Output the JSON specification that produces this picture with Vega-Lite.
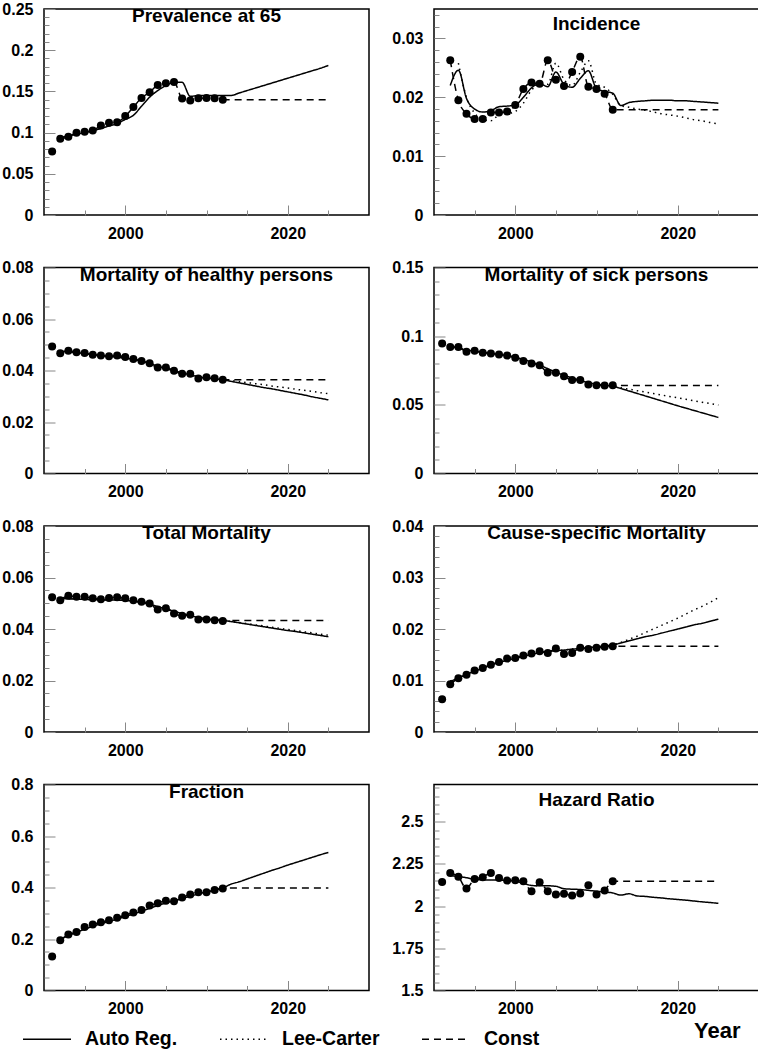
{
"$schema":"https://vega.github.io/schema/vega-lite/v6.json",
"padding":{"left":1,"top":0,"right":0,"bottom":0},
"data":{"values":[
{"p":"a","s":"obs","y":1991,"v":0.077},{"p":"a","s":"obs","y":1992,"v":0.0925},{"p":"a","s":"obs","y":1993,"v":0.095},{"p":"a","s":"obs","y":1994,"v":0.0997},{"p":"a","s":"obs","y":1995,"v":0.101},{"p":"a","s":"obs","y":1996,"v":0.1025},{"p":"a","s":"obs","y":1997,"v":0.1085},{"p":"a","s":"obs","y":1998,"v":0.112},{"p":"a","s":"obs","y":1999,"v":0.1127},{"p":"a","s":"obs","y":2000,"v":0.12},{"p":"a","s":"obs","y":2001,"v":0.131},{"p":"a","s":"obs","y":2002,"v":0.142},{"p":"a","s":"obs","y":2003,"v":0.149},{"p":"a","s":"obs","y":2004,"v":0.1577},{"p":"a","s":"obs","y":2005,"v":0.16},{"p":"a","s":"obs","y":2006,"v":0.1613},{"p":"a","s":"obs","y":2007,"v":0.1413},{"p":"a","s":"obs","y":2008,"v":0.139},{"p":"a","s":"obs","y":2009,"v":0.1418},{"p":"a","s":"obs","y":2010,"v":0.142},{"p":"a","s":"obs","y":2011,"v":0.1418},{"p":"a","s":"obs","y":2012,"v":0.14},
{"p":"a","s":"Const","y":1992,"v":0.0925},{"p":"a","s":"Const","y":1993,"v":0.095},{"p":"a","s":"Const","y":1994,"v":0.0997},{"p":"a","s":"Const","y":1995,"v":0.101},{"p":"a","s":"Const","y":1996,"v":0.1025},{"p":"a","s":"Const","y":1997,"v":0.1085},{"p":"a","s":"Const","y":1998,"v":0.112},{"p":"a","s":"Const","y":1999,"v":0.1127},{"p":"a","s":"Const","y":2000,"v":0.12},{"p":"a","s":"Const","y":2001,"v":0.131},{"p":"a","s":"Const","y":2002,"v":0.142},{"p":"a","s":"Const","y":2003,"v":0.149},{"p":"a","s":"Const","y":2004,"v":0.1577},{"p":"a","s":"Const","y":2005,"v":0.16},{"p":"a","s":"Const","y":2006,"v":0.1613},{"p":"a","s":"Const","y":2007,"v":0.1413},{"p":"a","s":"Const","y":2008,"v":0.139},{"p":"a","s":"Const","y":2009,"v":0.1418},{"p":"a","s":"Const","y":2010,"v":0.142},{"p":"a","s":"Const","y":2011,"v":0.1418},{"p":"a","s":"Const","y":2012,"v":0.14},{"p":"a","s":"Const","y":2025,"v":0.14},
{"p":"a","s":"Auto Reg.","y":1992,"v":0.094},{"p":"a","s":"Auto Reg.","y":1993,"v":0.096},{"p":"a","s":"Auto Reg.","y":1994,"v":0.098},{"p":"a","s":"Auto Reg.","y":1995,"v":0.1},{"p":"a","s":"Auto Reg.","y":1996,"v":0.102},{"p":"a","s":"Auto Reg.","y":1997,"v":0.105},{"p":"a","s":"Auto Reg.","y":1998,"v":0.108},{"p":"a","s":"Auto Reg.","y":1999,"v":0.111},{"p":"a","s":"Auto Reg.","y":2000,"v":0.116},{"p":"a","s":"Auto Reg.","y":2001,"v":0.121},{"p":"a","s":"Auto Reg.","y":2002,"v":0.132},{"p":"a","s":"Auto Reg.","y":2003,"v":0.143},{"p":"a","s":"Auto Reg.","y":2004,"v":0.151},{"p":"a","s":"Auto Reg.","y":2005,"v":0.157},{"p":"a","s":"Auto Reg.","y":2006,"v":0.161},{"p":"a","s":"Auto Reg.","y":2007,"v":0.161},{"p":"a","s":"Auto Reg.","y":2008,"v":0.144},{"p":"a","s":"Auto Reg.","y":2009,"v":0.145},{"p":"a","s":"Auto Reg.","y":2010,"v":0.145},{"p":"a","s":"Auto Reg.","y":2011,"v":0.145},{"p":"a","s":"Auto Reg.","y":2012,"v":0.145},{"p":"a","s":"Auto Reg.","y":2013,"v":0.145},{"p":"a","s":"Auto Reg.","y":2014,"v":0.148},{"p":"a","s":"Auto Reg.","y":2015,"v":0.151},{"p":"a","s":"Auto Reg.","y":2016,"v":0.154},{"p":"a","s":"Auto Reg.","y":2017,"v":0.157},{"p":"a","s":"Auto Reg.","y":2018,"v":0.16},{"p":"a","s":"Auto Reg.","y":2019,"v":0.163},{"p":"a","s":"Auto Reg.","y":2020,"v":0.166},{"p":"a","s":"Auto Reg.","y":2021,"v":0.169},{"p":"a","s":"Auto Reg.","y":2022,"v":0.172},{"p":"a","s":"Auto Reg.","y":2023,"v":0.175},{"p":"a","s":"Auto Reg.","y":2024,"v":0.178},{"p":"a","s":"Auto Reg.","y":2025,"v":0.1815},

{"p":"b","s":"obs","y":1992,"v":0.0263},{"p":"b","s":"obs","y":1993,"v":0.0195},{"p":"b","s":"obs","y":1994,"v":0.0172},{"p":"b","s":"obs","y":1995,"v":0.0163},{"p":"b","s":"obs","y":1996,"v":0.0163},{"p":"b","s":"obs","y":1997,"v":0.0174},{"p":"b","s":"obs","y":1998,"v":0.0174},{"p":"b","s":"obs","y":1999,"v":0.0176},{"p":"b","s":"obs","y":2000,"v":0.0187},{"p":"b","s":"obs","y":2001,"v":0.0214},{"p":"b","s":"obs","y":2002,"v":0.0225},{"p":"b","s":"obs","y":2003,"v":0.0223},{"p":"b","s":"obs","y":2004,"v":0.0263},{"p":"b","s":"obs","y":2005,"v":0.023},{"p":"b","s":"obs","y":2006,"v":0.0219},{"p":"b","s":"obs","y":2007,"v":0.0243},{"p":"b","s":"obs","y":2008,"v":0.0269},{"p":"b","s":"obs","y":2009,"v":0.0218},{"p":"b","s":"obs","y":2010,"v":0.0214},{"p":"b","s":"obs","y":2011,"v":0.0206},{"p":"b","s":"obs","y":2012,"v":0.0179},
{"p":"b","s":"Const","y":1992,"v":0.0263},{"p":"b","s":"Const","y":1993,"v":0.0195},{"p":"b","s":"Const","y":1994,"v":0.0172},{"p":"b","s":"Const","y":1995,"v":0.0163},{"p":"b","s":"Const","y":1996,"v":0.0163},{"p":"b","s":"Const","y":1997,"v":0.0174},{"p":"b","s":"Const","y":1998,"v":0.0174},{"p":"b","s":"Const","y":1999,"v":0.0176},{"p":"b","s":"Const","y":2000,"v":0.0187},{"p":"b","s":"Const","y":2001,"v":0.0214},{"p":"b","s":"Const","y":2002,"v":0.0225},{"p":"b","s":"Const","y":2003,"v":0.0223},{"p":"b","s":"Const","y":2004,"v":0.0263},{"p":"b","s":"Const","y":2005,"v":0.023},{"p":"b","s":"Const","y":2006,"v":0.0219},{"p":"b","s":"Const","y":2007,"v":0.0243},{"p":"b","s":"Const","y":2008,"v":0.0269},{"p":"b","s":"Const","y":2009,"v":0.0218},{"p":"b","s":"Const","y":2010,"v":0.0214},{"p":"b","s":"Const","y":2011,"v":0.0206},{"p":"b","s":"Const","y":2012,"v":0.0179},{"p":"b","s":"Const","y":2025,"v":0.0179},
{"p":"b","s":"Auto Reg.","y":1992,"v":0.022},{"p":"b","s":"Auto Reg.","y":1993,"v":0.0246},{"p":"b","s":"Auto Reg.","y":1994,"v":0.0198},{"p":"b","s":"Auto Reg.","y":1995,"v":0.018},{"p":"b","s":"Auto Reg.","y":1996,"v":0.0175},{"p":"b","s":"Auto Reg.","y":1997,"v":0.0177},{"p":"b","s":"Auto Reg.","y":1998,"v":0.0184},{"p":"b","s":"Auto Reg.","y":1999,"v":0.0185},{"p":"b","s":"Auto Reg.","y":2000,"v":0.0187},{"p":"b","s":"Auto Reg.","y":2001,"v":0.02},{"p":"b","s":"Auto Reg.","y":2002,"v":0.0216},{"p":"b","s":"Auto Reg.","y":2003,"v":0.0223},{"p":"b","s":"Auto Reg.","y":2004,"v":0.0218},{"p":"b","s":"Auto Reg.","y":2005,"v":0.0243},{"p":"b","s":"Auto Reg.","y":2006,"v":0.0222},{"p":"b","s":"Auto Reg.","y":2007,"v":0.0217},{"p":"b","s":"Auto Reg.","y":2008,"v":0.0232},{"p":"b","s":"Auto Reg.","y":2009,"v":0.0245},{"p":"b","s":"Auto Reg.","y":2010,"v":0.0215},{"p":"b","s":"Auto Reg.","y":2011,"v":0.021},{"p":"b","s":"Auto Reg.","y":2012,"v":0.0207},{"p":"b","s":"Auto Reg.","y":2013,"v":0.0186},{"p":"b","s":"Auto Reg.","y":2014,"v":0.0191},{"p":"b","s":"Auto Reg.","y":2015,"v":0.0193},{"p":"b","s":"Auto Reg.","y":2016,"v":0.0194},{"p":"b","s":"Auto Reg.","y":2017,"v":0.0195},{"p":"b","s":"Auto Reg.","y":2018,"v":0.0195},{"p":"b","s":"Auto Reg.","y":2019,"v":0.0195},{"p":"b","s":"Auto Reg.","y":2020,"v":0.0194},{"p":"b","s":"Auto Reg.","y":2021,"v":0.0194},{"p":"b","s":"Auto Reg.","y":2022,"v":0.0193},{"p":"b","s":"Auto Reg.","y":2023,"v":0.0192},{"p":"b","s":"Auto Reg.","y":2024,"v":0.0191},{"p":"b","s":"Auto Reg.","y":2025,"v":0.019},
{"p":"b","s":"Lee-Carter","y":1993,"v":0.0258},{"p":"b","s":"Lee-Carter","y":1994,"v":0.02},{"p":"b","s":"Lee-Carter","y":1995,"v":0.0173},{"p":"b","s":"Lee-Carter","y":1996,"v":0.0163},{"p":"b","s":"Lee-Carter","y":1997,"v":0.016},{"p":"b","s":"Lee-Carter","y":1998,"v":0.017},{"p":"b","s":"Lee-Carter","y":1999,"v":0.0172},{"p":"b","s":"Lee-Carter","y":2000,"v":0.0176},{"p":"b","s":"Lee-Carter","y":2001,"v":0.019},{"p":"b","s":"Lee-Carter","y":2002,"v":0.0212},{"p":"b","s":"Lee-Carter","y":2003,"v":0.0222},{"p":"b","s":"Lee-Carter","y":2004,"v":0.0222},{"p":"b","s":"Lee-Carter","y":2005,"v":0.0258},{"p":"b","s":"Lee-Carter","y":2006,"v":0.023},{"p":"b","s":"Lee-Carter","y":2007,"v":0.022},{"p":"b","s":"Lee-Carter","y":2008,"v":0.0242},{"p":"b","s":"Lee-Carter","y":2009,"v":0.0262},{"p":"b","s":"Lee-Carter","y":2010,"v":0.0222},{"p":"b","s":"Lee-Carter","y":2011,"v":0.0217},{"p":"b","s":"Lee-Carter","y":2012,"v":0.0205},{"p":"b","s":"Lee-Carter","y":2013,"v":0.0186},{"p":"b","s":"Lee-Carter","y":2014,"v":0.0183},{"p":"b","s":"Lee-Carter","y":2015,"v":0.018},{"p":"b","s":"Lee-Carter","y":2016,"v":0.0178},{"p":"b","s":"Lee-Carter","y":2017,"v":0.0175},{"p":"b","s":"Lee-Carter","y":2018,"v":0.0172},{"p":"b","s":"Lee-Carter","y":2019,"v":0.017},{"p":"b","s":"Lee-Carter","y":2020,"v":0.0168},{"p":"b","s":"Lee-Carter","y":2021,"v":0.0165},{"p":"b","s":"Lee-Carter","y":2022,"v":0.0162},{"p":"b","s":"Lee-Carter","y":2023,"v":0.016},{"p":"b","s":"Lee-Carter","y":2024,"v":0.0157},{"p":"b","s":"Lee-Carter","y":2025,"v":0.0155},

{"p":"c","s":"obs","y":1991,"v":0.0493},{"p":"c","s":"obs","y":1992,"v":0.0467},{"p":"c","s":"obs","y":1993,"v":0.0477},{"p":"c","s":"obs","y":1994,"v":0.0471},{"p":"c","s":"obs","y":1995,"v":0.0468},{"p":"c","s":"obs","y":1996,"v":0.0461},{"p":"c","s":"obs","y":1997,"v":0.0458},{"p":"c","s":"obs","y":1998,"v":0.0455},{"p":"c","s":"obs","y":1999,"v":0.0458},{"p":"c","s":"obs","y":2000,"v":0.0452},{"p":"c","s":"obs","y":2001,"v":0.0445},{"p":"c","s":"obs","y":2002,"v":0.0437},{"p":"c","s":"obs","y":2003,"v":0.0428},{"p":"c","s":"obs","y":2004,"v":0.0412},{"p":"c","s":"obs","y":2005,"v":0.0412},{"p":"c","s":"obs","y":2006,"v":0.0399},{"p":"c","s":"obs","y":2007,"v":0.0387},{"p":"c","s":"obs","y":2008,"v":0.0387},{"p":"c","s":"obs","y":2009,"v":0.0369},{"p":"c","s":"obs","y":2010,"v":0.0374},{"p":"c","s":"obs","y":2011,"v":0.037},{"p":"c","s":"obs","y":2012,"v":0.0364},
{"p":"c","s":"Const","y":1992,"v":0.0467},{"p":"c","s":"Const","y":1993,"v":0.0477},{"p":"c","s":"Const","y":1994,"v":0.0471},{"p":"c","s":"Const","y":1995,"v":0.0468},{"p":"c","s":"Const","y":1996,"v":0.0461},{"p":"c","s":"Const","y":1997,"v":0.0458},{"p":"c","s":"Const","y":1998,"v":0.0455},{"p":"c","s":"Const","y":1999,"v":0.0458},{"p":"c","s":"Const","y":2000,"v":0.0452},{"p":"c","s":"Const","y":2001,"v":0.0445},{"p":"c","s":"Const","y":2002,"v":0.0437},{"p":"c","s":"Const","y":2003,"v":0.0428},{"p":"c","s":"Const","y":2004,"v":0.0412},{"p":"c","s":"Const","y":2005,"v":0.0412},{"p":"c","s":"Const","y":2006,"v":0.0399},{"p":"c","s":"Const","y":2007,"v":0.0387},{"p":"c","s":"Const","y":2008,"v":0.0387},{"p":"c","s":"Const","y":2009,"v":0.0369},{"p":"c","s":"Const","y":2010,"v":0.0374},{"p":"c","s":"Const","y":2011,"v":0.037},{"p":"c","s":"Const","y":2012,"v":0.0364},{"p":"c","s":"Const","y":2025,"v":0.0364},
{"p":"c","s":"Auto Reg.","y":1992,"v":0.0475},{"p":"c","s":"Auto Reg.","y":1993,"v":0.0472},{"p":"c","s":"Auto Reg.","y":1994,"v":0.0469},{"p":"c","s":"Auto Reg.","y":1995,"v":0.0466},{"p":"c","s":"Auto Reg.","y":1996,"v":0.0462},{"p":"c","s":"Auto Reg.","y":1997,"v":0.0458},{"p":"c","s":"Auto Reg.","y":1998,"v":0.0455},{"p":"c","s":"Auto Reg.","y":1999,"v":0.0452},{"p":"c","s":"Auto Reg.","y":2000,"v":0.0448},{"p":"c","s":"Auto Reg.","y":2001,"v":0.0443},{"p":"c","s":"Auto Reg.","y":2002,"v":0.0436},{"p":"c","s":"Auto Reg.","y":2003,"v":0.0427},{"p":"c","s":"Auto Reg.","y":2004,"v":0.0417},{"p":"c","s":"Auto Reg.","y":2005,"v":0.0408},{"p":"c","s":"Auto Reg.","y":2006,"v":0.0399},{"p":"c","s":"Auto Reg.","y":2007,"v":0.0391},{"p":"c","s":"Auto Reg.","y":2008,"v":0.0383},{"p":"c","s":"Auto Reg.","y":2009,"v":0.0376},{"p":"c","s":"Auto Reg.","y":2010,"v":0.0371},{"p":"c","s":"Auto Reg.","y":2011,"v":0.0367},{"p":"c","s":"Auto Reg.","y":2012,"v":0.0364},{"p":"c","s":"Auto Reg.","y":2013,"v":0.0358},{"p":"c","s":"Auto Reg.","y":2014,"v":0.0352},{"p":"c","s":"Auto Reg.","y":2015,"v":0.0346},{"p":"c","s":"Auto Reg.","y":2016,"v":0.034},{"p":"c","s":"Auto Reg.","y":2017,"v":0.0334},{"p":"c","s":"Auto Reg.","y":2018,"v":0.0329},{"p":"c","s":"Auto Reg.","y":2019,"v":0.0323},{"p":"c","s":"Auto Reg.","y":2020,"v":0.0317},{"p":"c","s":"Auto Reg.","y":2021,"v":0.0311},{"p":"c","s":"Auto Reg.","y":2022,"v":0.0305},{"p":"c","s":"Auto Reg.","y":2023,"v":0.0298},{"p":"c","s":"Auto Reg.","y":2024,"v":0.0292},{"p":"c","s":"Auto Reg.","y":2025,"v":0.0286},
{"p":"c","s":"Lee-Carter","y":1992,"v":0.0476},{"p":"c","s":"Lee-Carter","y":1993,"v":0.0473},{"p":"c","s":"Lee-Carter","y":1994,"v":0.047},{"p":"c","s":"Lee-Carter","y":1995,"v":0.0466},{"p":"c","s":"Lee-Carter","y":1996,"v":0.0462},{"p":"c","s":"Lee-Carter","y":1997,"v":0.0458},{"p":"c","s":"Lee-Carter","y":1998,"v":0.0455},{"p":"c","s":"Lee-Carter","y":1999,"v":0.0452},{"p":"c","s":"Lee-Carter","y":2000,"v":0.0448},{"p":"c","s":"Lee-Carter","y":2001,"v":0.0443},{"p":"c","s":"Lee-Carter","y":2002,"v":0.0436},{"p":"c","s":"Lee-Carter","y":2003,"v":0.0427},{"p":"c","s":"Lee-Carter","y":2004,"v":0.0417},{"p":"c","s":"Lee-Carter","y":2005,"v":0.0408},{"p":"c","s":"Lee-Carter","y":2006,"v":0.0399},{"p":"c","s":"Lee-Carter","y":2007,"v":0.0391},{"p":"c","s":"Lee-Carter","y":2008,"v":0.0383},{"p":"c","s":"Lee-Carter","y":2009,"v":0.0376},{"p":"c","s":"Lee-Carter","y":2010,"v":0.0371},{"p":"c","s":"Lee-Carter","y":2011,"v":0.0367},{"p":"c","s":"Lee-Carter","y":2012,"v":0.0364},{"p":"c","s":"Lee-Carter","y":2013,"v":0.0361},{"p":"c","s":"Lee-Carter","y":2014,"v":0.0357},{"p":"c","s":"Lee-Carter","y":2015,"v":0.0353},{"p":"c","s":"Lee-Carter","y":2016,"v":0.0349},{"p":"c","s":"Lee-Carter","y":2017,"v":0.0345},{"p":"c","s":"Lee-Carter","y":2018,"v":0.034},{"p":"c","s":"Lee-Carter","y":2019,"v":0.0336},{"p":"c","s":"Lee-Carter","y":2020,"v":0.0332},{"p":"c","s":"Lee-Carter","y":2021,"v":0.0327},{"p":"c","s":"Lee-Carter","y":2022,"v":0.0323},{"p":"c","s":"Lee-Carter","y":2023,"v":0.0319},{"p":"c","s":"Lee-Carter","y":2024,"v":0.0314},{"p":"c","s":"Lee-Carter","y":2025,"v":0.031},

{"p":"d","s":"obs","y":1991,"v":0.0947},{"p":"d","s":"obs","y":1992,"v":0.0922},{"p":"d","s":"obs","y":1993,"v":0.0922},{"p":"d","s":"obs","y":1994,"v":0.0886},{"p":"d","s":"obs","y":1995,"v":0.0893},{"p":"d","s":"obs","y":1996,"v":0.0879},{"p":"d","s":"obs","y":1997,"v":0.0874},{"p":"d","s":"obs","y":1998,"v":0.0867},{"p":"d","s":"obs","y":1999,"v":0.0859},{"p":"d","s":"obs","y":2000,"v":0.0842},{"p":"d","s":"obs","y":2001,"v":0.082},{"p":"d","s":"obs","y":2002,"v":0.0801},{"p":"d","s":"obs","y":2003,"v":0.0789},{"p":"d","s":"obs","y":2004,"v":0.0735},{"p":"d","s":"obs","y":2005,"v":0.0733},{"p":"d","s":"obs","y":2006,"v":0.0709},{"p":"d","s":"obs","y":2007,"v":0.068},{"p":"d","s":"obs","y":2008,"v":0.068},{"p":"d","s":"obs","y":2009,"v":0.0648},{"p":"d","s":"obs","y":2010,"v":0.0643},{"p":"d","s":"obs","y":2011,"v":0.0641},{"p":"d","s":"obs","y":2012,"v":0.0643},
{"p":"d","s":"Const","y":1992,"v":0.0922},{"p":"d","s":"Const","y":1993,"v":0.0922},{"p":"d","s":"Const","y":1994,"v":0.0886},{"p":"d","s":"Const","y":1995,"v":0.0893},{"p":"d","s":"Const","y":1996,"v":0.0879},{"p":"d","s":"Const","y":1997,"v":0.0874},{"p":"d","s":"Const","y":1998,"v":0.0867},{"p":"d","s":"Const","y":1999,"v":0.0859},{"p":"d","s":"Const","y":2000,"v":0.0842},{"p":"d","s":"Const","y":2001,"v":0.082},{"p":"d","s":"Const","y":2002,"v":0.0801},{"p":"d","s":"Const","y":2003,"v":0.0789},{"p":"d","s":"Const","y":2004,"v":0.0735},{"p":"d","s":"Const","y":2005,"v":0.0733},{"p":"d","s":"Const","y":2006,"v":0.0709},{"p":"d","s":"Const","y":2007,"v":0.068},{"p":"d","s":"Const","y":2008,"v":0.068},{"p":"d","s":"Const","y":2009,"v":0.0648},{"p":"d","s":"Const","y":2010,"v":0.0643},{"p":"d","s":"Const","y":2011,"v":0.0641},{"p":"d","s":"Const","y":2012,"v":0.064},{"p":"d","s":"Const","y":2025,"v":0.064},
{"p":"d","s":"Auto Reg.","y":1992,"v":0.0925},{"p":"d","s":"Auto Reg.","y":1993,"v":0.0912},{"p":"d","s":"Auto Reg.","y":1994,"v":0.09},{"p":"d","s":"Auto Reg.","y":1995,"v":0.089},{"p":"d","s":"Auto Reg.","y":1996,"v":0.0882},{"p":"d","s":"Auto Reg.","y":1997,"v":0.0875},{"p":"d","s":"Auto Reg.","y":1998,"v":0.0867},{"p":"d","s":"Auto Reg.","y":1999,"v":0.0858},{"p":"d","s":"Auto Reg.","y":2000,"v":0.0846},{"p":"d","s":"Auto Reg.","y":2001,"v":0.083},{"p":"d","s":"Auto Reg.","y":2002,"v":0.0812},{"p":"d","s":"Auto Reg.","y":2003,"v":0.079},{"p":"d","s":"Auto Reg.","y":2004,"v":0.0763},{"p":"d","s":"Auto Reg.","y":2005,"v":0.0738},{"p":"d","s":"Auto Reg.","y":2006,"v":0.0716},{"p":"d","s":"Auto Reg.","y":2007,"v":0.0696},{"p":"d","s":"Auto Reg.","y":2008,"v":0.0678},{"p":"d","s":"Auto Reg.","y":2009,"v":0.0662},{"p":"d","s":"Auto Reg.","y":2010,"v":0.065},{"p":"d","s":"Auto Reg.","y":2011,"v":0.0642},{"p":"d","s":"Auto Reg.","y":2012,"v":0.0636},{"p":"d","s":"Auto Reg.","y":2013,"v":0.0619},{"p":"d","s":"Auto Reg.","y":2014,"v":0.0601},{"p":"d","s":"Auto Reg.","y":2015,"v":0.0583},{"p":"d","s":"Auto Reg.","y":2016,"v":0.0565},{"p":"d","s":"Auto Reg.","y":2017,"v":0.0547},{"p":"d","s":"Auto Reg.","y":2018,"v":0.0529},{"p":"d","s":"Auto Reg.","y":2019,"v":0.0511},{"p":"d","s":"Auto Reg.","y":2020,"v":0.0493},{"p":"d","s":"Auto Reg.","y":2021,"v":0.0476},{"p":"d","s":"Auto Reg.","y":2022,"v":0.0459},{"p":"d","s":"Auto Reg.","y":2023,"v":0.0442},{"p":"d","s":"Auto Reg.","y":2024,"v":0.0425},{"p":"d","s":"Auto Reg.","y":2025,"v":0.0408},
{"p":"d","s":"Lee-Carter","y":1992,"v":0.0925},{"p":"d","s":"Lee-Carter","y":1993,"v":0.0912},{"p":"d","s":"Lee-Carter","y":1994,"v":0.09},{"p":"d","s":"Lee-Carter","y":1995,"v":0.089},{"p":"d","s":"Lee-Carter","y":1996,"v":0.0882},{"p":"d","s":"Lee-Carter","y":1997,"v":0.0875},{"p":"d","s":"Lee-Carter","y":1998,"v":0.0867},{"p":"d","s":"Lee-Carter","y":1999,"v":0.0858},{"p":"d","s":"Lee-Carter","y":2000,"v":0.0846},{"p":"d","s":"Lee-Carter","y":2001,"v":0.083},{"p":"d","s":"Lee-Carter","y":2002,"v":0.0812},{"p":"d","s":"Lee-Carter","y":2003,"v":0.079},{"p":"d","s":"Lee-Carter","y":2004,"v":0.0763},{"p":"d","s":"Lee-Carter","y":2005,"v":0.0738},{"p":"d","s":"Lee-Carter","y":2006,"v":0.0716},{"p":"d","s":"Lee-Carter","y":2007,"v":0.0696},{"p":"d","s":"Lee-Carter","y":2008,"v":0.0678},{"p":"d","s":"Lee-Carter","y":2009,"v":0.0662},{"p":"d","s":"Lee-Carter","y":2010,"v":0.065},{"p":"d","s":"Lee-Carter","y":2011,"v":0.0642},{"p":"d","s":"Lee-Carter","y":2012,"v":0.0636},{"p":"d","s":"Lee-Carter","y":2013,"v":0.0624},{"p":"d","s":"Lee-Carter","y":2014,"v":0.0614},{"p":"d","s":"Lee-Carter","y":2015,"v":0.0603},{"p":"d","s":"Lee-Carter","y":2016,"v":0.0593},{"p":"d","s":"Lee-Carter","y":2017,"v":0.0582},{"p":"d","s":"Lee-Carter","y":2018,"v":0.0572},{"p":"d","s":"Lee-Carter","y":2019,"v":0.0561},{"p":"d","s":"Lee-Carter","y":2020,"v":0.0551},{"p":"d","s":"Lee-Carter","y":2021,"v":0.054},{"p":"d","s":"Lee-Carter","y":2022,"v":0.053},{"p":"d","s":"Lee-Carter","y":2023,"v":0.0519},{"p":"d","s":"Lee-Carter","y":2024,"v":0.0509},{"p":"d","s":"Lee-Carter","y":2025,"v":0.0498},

{"p":"e","s":"obs","y":1991,"v":0.0523},{"p":"e","s":"obs","y":1992,"v":0.0512},{"p":"e","s":"obs","y":1993,"v":0.0529},{"p":"e","s":"obs","y":1994,"v":0.0525},{"p":"e","s":"obs","y":1995,"v":0.0525},{"p":"e","s":"obs","y":1996,"v":0.0519},{"p":"e","s":"obs","y":1997,"v":0.0516},{"p":"e","s":"obs","y":1998,"v":0.052},{"p":"e","s":"obs","y":1999,"v":0.0523},{"p":"e","s":"obs","y":2000,"v":0.0519},{"p":"e","s":"obs","y":2001,"v":0.0512},{"p":"e","s":"obs","y":2002,"v":0.0506},{"p":"e","s":"obs","y":2003,"v":0.0499},{"p":"e","s":"obs","y":2004,"v":0.0476},{"p":"e","s":"obs","y":2005,"v":0.0481},{"p":"e","s":"obs","y":2006,"v":0.046},{"p":"e","s":"obs","y":2007,"v":0.0451},{"p":"e","s":"obs","y":2008,"v":0.0455},{"p":"e","s":"obs","y":2009,"v":0.0437},{"p":"e","s":"obs","y":2010,"v":0.0437},{"p":"e","s":"obs","y":2011,"v":0.0434},{"p":"e","s":"obs","y":2012,"v":0.0431},
{"p":"e","s":"Const","y":1992,"v":0.0512},{"p":"e","s":"Const","y":1993,"v":0.0529},{"p":"e","s":"Const","y":1994,"v":0.0525},{"p":"e","s":"Const","y":1995,"v":0.0525},{"p":"e","s":"Const","y":1996,"v":0.0519},{"p":"e","s":"Const","y":1997,"v":0.0516},{"p":"e","s":"Const","y":1998,"v":0.052},{"p":"e","s":"Const","y":1999,"v":0.0523},{"p":"e","s":"Const","y":2000,"v":0.0519},{"p":"e","s":"Const","y":2001,"v":0.0512},{"p":"e","s":"Const","y":2002,"v":0.0506},{"p":"e","s":"Const","y":2003,"v":0.0499},{"p":"e","s":"Const","y":2004,"v":0.0476},{"p":"e","s":"Const","y":2005,"v":0.0481},{"p":"e","s":"Const","y":2006,"v":0.046},{"p":"e","s":"Const","y":2007,"v":0.0451},{"p":"e","s":"Const","y":2008,"v":0.0455},{"p":"e","s":"Const","y":2009,"v":0.0437},{"p":"e","s":"Const","y":2010,"v":0.0437},{"p":"e","s":"Const","y":2011,"v":0.0434},{"p":"e","s":"Const","y":2012,"v":0.0433},{"p":"e","s":"Const","y":2025,"v":0.0433},
{"p":"e","s":"Auto Reg.","y":1992,"v":0.0518},{"p":"e","s":"Auto Reg.","y":1993,"v":0.0517},{"p":"e","s":"Auto Reg.","y":1994,"v":0.0516},{"p":"e","s":"Auto Reg.","y":1995,"v":0.0515},{"p":"e","s":"Auto Reg.","y":1996,"v":0.0514},{"p":"e","s":"Auto Reg.","y":1997,"v":0.0513},{"p":"e","s":"Auto Reg.","y":1998,"v":0.0513},{"p":"e","s":"Auto Reg.","y":1999,"v":0.0512},{"p":"e","s":"Auto Reg.","y":2000,"v":0.0511},{"p":"e","s":"Auto Reg.","y":2001,"v":0.0508},{"p":"e","s":"Auto Reg.","y":2002,"v":0.0503},{"p":"e","s":"Auto Reg.","y":2003,"v":0.0496},{"p":"e","s":"Auto Reg.","y":2004,"v":0.0487},{"p":"e","s":"Auto Reg.","y":2005,"v":0.0478},{"p":"e","s":"Auto Reg.","y":2006,"v":0.0469},{"p":"e","s":"Auto Reg.","y":2007,"v":0.046},{"p":"e","s":"Auto Reg.","y":2008,"v":0.0452},{"p":"e","s":"Auto Reg.","y":2009,"v":0.0445},{"p":"e","s":"Auto Reg.","y":2010,"v":0.044},{"p":"e","s":"Auto Reg.","y":2011,"v":0.0436},{"p":"e","s":"Auto Reg.","y":2012,"v":0.0433},{"p":"e","s":"Auto Reg.","y":2013,"v":0.0429},{"p":"e","s":"Auto Reg.","y":2014,"v":0.0424},{"p":"e","s":"Auto Reg.","y":2015,"v":0.0419},{"p":"e","s":"Auto Reg.","y":2016,"v":0.0414},{"p":"e","s":"Auto Reg.","y":2017,"v":0.0409},{"p":"e","s":"Auto Reg.","y":2018,"v":0.0404},{"p":"e","s":"Auto Reg.","y":2019,"v":0.0399},{"p":"e","s":"Auto Reg.","y":2020,"v":0.0394},{"p":"e","s":"Auto Reg.","y":2021,"v":0.039},{"p":"e","s":"Auto Reg.","y":2022,"v":0.0385},{"p":"e","s":"Auto Reg.","y":2023,"v":0.038},{"p":"e","s":"Auto Reg.","y":2024,"v":0.0375},{"p":"e","s":"Auto Reg.","y":2025,"v":0.037},
{"p":"e","s":"Lee-Carter","y":1992,"v":0.052},{"p":"e","s":"Lee-Carter","y":1993,"v":0.0519},{"p":"e","s":"Lee-Carter","y":1994,"v":0.0517},{"p":"e","s":"Lee-Carter","y":1995,"v":0.0516},{"p":"e","s":"Lee-Carter","y":1996,"v":0.0514},{"p":"e","s":"Lee-Carter","y":1997,"v":0.0513},{"p":"e","s":"Lee-Carter","y":1998,"v":0.0513},{"p":"e","s":"Lee-Carter","y":1999,"v":0.0512},{"p":"e","s":"Lee-Carter","y":2000,"v":0.0511},{"p":"e","s":"Lee-Carter","y":2001,"v":0.0508},{"p":"e","s":"Lee-Carter","y":2002,"v":0.0503},{"p":"e","s":"Lee-Carter","y":2003,"v":0.0496},{"p":"e","s":"Lee-Carter","y":2004,"v":0.0487},{"p":"e","s":"Lee-Carter","y":2005,"v":0.0478},{"p":"e","s":"Lee-Carter","y":2006,"v":0.0469},{"p":"e","s":"Lee-Carter","y":2007,"v":0.046},{"p":"e","s":"Lee-Carter","y":2008,"v":0.0452},{"p":"e","s":"Lee-Carter","y":2009,"v":0.0445},{"p":"e","s":"Lee-Carter","y":2010,"v":0.044},{"p":"e","s":"Lee-Carter","y":2011,"v":0.0436},{"p":"e","s":"Lee-Carter","y":2012,"v":0.0433},{"p":"e","s":"Lee-Carter","y":2013,"v":0.043},{"p":"e","s":"Lee-Carter","y":2014,"v":0.0425},{"p":"e","s":"Lee-Carter","y":2015,"v":0.0421},{"p":"e","s":"Lee-Carter","y":2016,"v":0.0416},{"p":"e","s":"Lee-Carter","y":2017,"v":0.0412},{"p":"e","s":"Lee-Carter","y":2018,"v":0.0407},{"p":"e","s":"Lee-Carter","y":2019,"v":0.0403},{"p":"e","s":"Lee-Carter","y":2020,"v":0.0398},{"p":"e","s":"Lee-Carter","y":2021,"v":0.0394},{"p":"e","s":"Lee-Carter","y":2022,"v":0.0389},{"p":"e","s":"Lee-Carter","y":2023,"v":0.0385},{"p":"e","s":"Lee-Carter","y":2024,"v":0.038},{"p":"e","s":"Lee-Carter","y":2025,"v":0.0376},

{"p":"f","s":"obs","y":1991,"v":0.00634},{"p":"f","s":"obs","y":1992,"v":0.00928},{"p":"f","s":"obs","y":1993,"v":0.01046},{"p":"f","s":"obs","y":1994,"v":0.01111},{"p":"f","s":"obs","y":1995,"v":0.01196},{"p":"f","s":"obs","y":1996,"v":0.01242},{"p":"f","s":"obs","y":1997,"v":0.01307},{"p":"f","s":"obs","y":1998,"v":0.0136},{"p":"f","s":"obs","y":1999,"v":0.01425},{"p":"f","s":"obs","y":2000,"v":0.01438},{"p":"f","s":"obs","y":2001,"v":0.01484},{"p":"f","s":"obs","y":2002,"v":0.01523},{"p":"f","s":"obs","y":2003,"v":0.01569},{"p":"f","s":"obs","y":2004,"v":0.01536},{"p":"f","s":"obs","y":2005,"v":0.01621},{"p":"f","s":"obs","y":2006,"v":0.01516},{"p":"f","s":"obs","y":2007,"v":0.01536},{"p":"f","s":"obs","y":2008,"v":0.01634},{"p":"f","s":"obs","y":2009,"v":0.01614},{"p":"f","s":"obs","y":2010,"v":0.01634},{"p":"f","s":"obs","y":2011,"v":0.01654},{"p":"f","s":"obs","y":2012,"v":0.01667},
{"p":"f","s":"Const","y":1992,"v":0.00928},{"p":"f","s":"Const","y":1993,"v":0.01046},{"p":"f","s":"Const","y":1994,"v":0.01111},{"p":"f","s":"Const","y":1995,"v":0.01196},{"p":"f","s":"Const","y":1996,"v":0.01242},{"p":"f","s":"Const","y":1997,"v":0.01307},{"p":"f","s":"Const","y":1998,"v":0.0136},{"p":"f","s":"Const","y":1999,"v":0.01425},{"p":"f","s":"Const","y":2000,"v":0.01438},{"p":"f","s":"Const","y":2001,"v":0.01484},{"p":"f","s":"Const","y":2002,"v":0.01523},{"p":"f","s":"Const","y":2003,"v":0.01569},{"p":"f","s":"Const","y":2004,"v":0.01536},{"p":"f","s":"Const","y":2005,"v":0.01621},{"p":"f","s":"Const","y":2006,"v":0.01516},{"p":"f","s":"Const","y":2007,"v":0.01536},{"p":"f","s":"Const","y":2008,"v":0.01634},{"p":"f","s":"Const","y":2009,"v":0.01614},{"p":"f","s":"Const","y":2010,"v":0.01634},{"p":"f","s":"Const","y":2011,"v":0.01654},{"p":"f","s":"Const","y":2012,"v":0.01667},{"p":"f","s":"Const","y":2025,"v":0.01667},
{"p":"f","s":"Auto Reg.","y":1992,"v":0.0098},{"p":"f","s":"Auto Reg.","y":1993,"v":0.0105},{"p":"f","s":"Auto Reg.","y":1994,"v":0.0112},{"p":"f","s":"Auto Reg.","y":1995,"v":0.0118},{"p":"f","s":"Auto Reg.","y":1996,"v":0.0124},{"p":"f","s":"Auto Reg.","y":1997,"v":0.013},{"p":"f","s":"Auto Reg.","y":1998,"v":0.0135},{"p":"f","s":"Auto Reg.","y":1999,"v":0.0139},{"p":"f","s":"Auto Reg.","y":2000,"v":0.0143},{"p":"f","s":"Auto Reg.","y":2001,"v":0.0147},{"p":"f","s":"Auto Reg.","y":2002,"v":0.0151},{"p":"f","s":"Auto Reg.","y":2003,"v":0.0154},{"p":"f","s":"Auto Reg.","y":2004,"v":0.0156},{"p":"f","s":"Auto Reg.","y":2005,"v":0.0158},{"p":"f","s":"Auto Reg.","y":2006,"v":0.0159},{"p":"f","s":"Auto Reg.","y":2007,"v":0.0161},{"p":"f","s":"Auto Reg.","y":2008,"v":0.0162},{"p":"f","s":"Auto Reg.","y":2009,"v":0.0164},{"p":"f","s":"Auto Reg.","y":2010,"v":0.0165},{"p":"f","s":"Auto Reg.","y":2011,"v":0.0167},{"p":"f","s":"Auto Reg.","y":2012,"v":0.0169},{"p":"f","s":"Auto Reg.","y":2013,"v":0.0173},{"p":"f","s":"Auto Reg.","y":2014,"v":0.0177},{"p":"f","s":"Auto Reg.","y":2015,"v":0.0181},{"p":"f","s":"Auto Reg.","y":2016,"v":0.0185},{"p":"f","s":"Auto Reg.","y":2017,"v":0.0188},{"p":"f","s":"Auto Reg.","y":2018,"v":0.0192},{"p":"f","s":"Auto Reg.","y":2019,"v":0.0196},{"p":"f","s":"Auto Reg.","y":2020,"v":0.02},{"p":"f","s":"Auto Reg.","y":2021,"v":0.0204},{"p":"f","s":"Auto Reg.","y":2022,"v":0.0208},{"p":"f","s":"Auto Reg.","y":2023,"v":0.0211},{"p":"f","s":"Auto Reg.","y":2024,"v":0.0215},{"p":"f","s":"Auto Reg.","y":2025,"v":0.0219},
{"p":"f","s":"Lee-Carter","y":1992,"v":0.0099},{"p":"f","s":"Lee-Carter","y":1993,"v":0.0106},{"p":"f","s":"Lee-Carter","y":1994,"v":0.0112},{"p":"f","s":"Lee-Carter","y":1995,"v":0.0118},{"p":"f","s":"Lee-Carter","y":1996,"v":0.0124},{"p":"f","s":"Lee-Carter","y":1997,"v":0.013},{"p":"f","s":"Lee-Carter","y":1998,"v":0.0135},{"p":"f","s":"Lee-Carter","y":1999,"v":0.0139},{"p":"f","s":"Lee-Carter","y":2000,"v":0.0143},{"p":"f","s":"Lee-Carter","y":2001,"v":0.0147},{"p":"f","s":"Lee-Carter","y":2002,"v":0.0151},{"p":"f","s":"Lee-Carter","y":2003,"v":0.0154},{"p":"f","s":"Lee-Carter","y":2004,"v":0.0156},{"p":"f","s":"Lee-Carter","y":2005,"v":0.0158},{"p":"f","s":"Lee-Carter","y":2006,"v":0.0159},{"p":"f","s":"Lee-Carter","y":2007,"v":0.0161},{"p":"f","s":"Lee-Carter","y":2008,"v":0.0162},{"p":"f","s":"Lee-Carter","y":2009,"v":0.0164},{"p":"f","s":"Lee-Carter","y":2010,"v":0.0165},{"p":"f","s":"Lee-Carter","y":2011,"v":0.0167},{"p":"f","s":"Lee-Carter","y":2012,"v":0.0169},{"p":"f","s":"Lee-Carter","y":2013,"v":0.0174},{"p":"f","s":"Lee-Carter","y":2014,"v":0.018},{"p":"f","s":"Lee-Carter","y":2015,"v":0.0186},{"p":"f","s":"Lee-Carter","y":2016,"v":0.0193},{"p":"f","s":"Lee-Carter","y":2017,"v":0.02},{"p":"f","s":"Lee-Carter","y":2018,"v":0.0207},{"p":"f","s":"Lee-Carter","y":2019,"v":0.0214},{"p":"f","s":"Lee-Carter","y":2020,"v":0.0221},{"p":"f","s":"Lee-Carter","y":2021,"v":0.0229},{"p":"f","s":"Lee-Carter","y":2022,"v":0.0237},{"p":"f","s":"Lee-Carter","y":2023,"v":0.0244},{"p":"f","s":"Lee-Carter","y":2024,"v":0.0252},{"p":"f","s":"Lee-Carter","y":2025,"v":0.0261},

{"p":"g","s":"obs","y":1991,"v":0.1325},{"p":"g","s":"obs","y":1992,"v":0.1948},{"p":"g","s":"obs","y":1993,"v":0.217},{"p":"g","s":"obs","y":1994,"v":0.227},{"p":"g","s":"obs","y":1995,"v":0.247},{"p":"g","s":"obs","y":1996,"v":0.256},{"p":"g","s":"obs","y":1997,"v":0.265},{"p":"g","s":"obs","y":1998,"v":0.273},{"p":"g","s":"obs","y":1999,"v":0.283},{"p":"g","s":"obs","y":2000,"v":0.292},{"p":"g","s":"obs","y":2001,"v":0.303},{"p":"g","s":"obs","y":2002,"v":0.313},{"p":"g","s":"obs","y":2003,"v":0.33},{"p":"g","s":"obs","y":2004,"v":0.339},{"p":"g","s":"obs","y":2005,"v":0.349},{"p":"g","s":"obs","y":2006,"v":0.347},{"p":"g","s":"obs","y":2007,"v":0.361},{"p":"g","s":"obs","y":2008,"v":0.373},{"p":"g","s":"obs","y":2009,"v":0.382},{"p":"g","s":"obs","y":2010,"v":0.382},{"p":"g","s":"obs","y":2011,"v":0.39},{"p":"g","s":"obs","y":2012,"v":0.396},
{"p":"g","s":"Const","y":1992,"v":0.1948},{"p":"g","s":"Const","y":1993,"v":0.217},{"p":"g","s":"Const","y":1994,"v":0.227},{"p":"g","s":"Const","y":1995,"v":0.247},{"p":"g","s":"Const","y":1996,"v":0.256},{"p":"g","s":"Const","y":1997,"v":0.265},{"p":"g","s":"Const","y":1998,"v":0.273},{"p":"g","s":"Const","y":1999,"v":0.283},{"p":"g","s":"Const","y":2000,"v":0.292},{"p":"g","s":"Const","y":2001,"v":0.303},{"p":"g","s":"Const","y":2002,"v":0.313},{"p":"g","s":"Const","y":2003,"v":0.33},{"p":"g","s":"Const","y":2004,"v":0.339},{"p":"g","s":"Const","y":2005,"v":0.349},{"p":"g","s":"Const","y":2006,"v":0.347},{"p":"g","s":"Const","y":2007,"v":0.361},{"p":"g","s":"Const","y":2008,"v":0.373},{"p":"g","s":"Const","y":2009,"v":0.382},{"p":"g","s":"Const","y":2010,"v":0.382},{"p":"g","s":"Const","y":2011,"v":0.39},{"p":"g","s":"Const","y":2012,"v":0.398},{"p":"g","s":"Const","y":2025,"v":0.398},
{"p":"g","s":"Auto Reg.","y":1992,"v":0.2},{"p":"g","s":"Auto Reg.","y":1993,"v":0.213},{"p":"g","s":"Auto Reg.","y":1994,"v":0.226},{"p":"g","s":"Auto Reg.","y":1995,"v":0.238},{"p":"g","s":"Auto Reg.","y":1996,"v":0.249},{"p":"g","s":"Auto Reg.","y":1997,"v":0.259},{"p":"g","s":"Auto Reg.","y":1998,"v":0.268},{"p":"g","s":"Auto Reg.","y":1999,"v":0.277},{"p":"g","s":"Auto Reg.","y":2000,"v":0.287},{"p":"g","s":"Auto Reg.","y":2001,"v":0.297},{"p":"g","s":"Auto Reg.","y":2002,"v":0.308},{"p":"g","s":"Auto Reg.","y":2003,"v":0.319},{"p":"g","s":"Auto Reg.","y":2004,"v":0.33},{"p":"g","s":"Auto Reg.","y":2005,"v":0.34},{"p":"g","s":"Auto Reg.","y":2006,"v":0.349},{"p":"g","s":"Auto Reg.","y":2007,"v":0.357},{"p":"g","s":"Auto Reg.","y":2008,"v":0.366},{"p":"g","s":"Auto Reg.","y":2009,"v":0.375},{"p":"g","s":"Auto Reg.","y":2010,"v":0.383},{"p":"g","s":"Auto Reg.","y":2011,"v":0.39},{"p":"g","s":"Auto Reg.","y":2012,"v":0.398},{"p":"g","s":"Auto Reg.","y":2013,"v":0.413},{"p":"g","s":"Auto Reg.","y":2014,"v":0.422},{"p":"g","s":"Auto Reg.","y":2015,"v":0.433},{"p":"g","s":"Auto Reg.","y":2016,"v":0.444},{"p":"g","s":"Auto Reg.","y":2017,"v":0.455},{"p":"g","s":"Auto Reg.","y":2018,"v":0.466},{"p":"g","s":"Auto Reg.","y":2019,"v":0.476},{"p":"g","s":"Auto Reg.","y":2020,"v":0.487},{"p":"g","s":"Auto Reg.","y":2021,"v":0.497},{"p":"g","s":"Auto Reg.","y":2022,"v":0.507},{"p":"g","s":"Auto Reg.","y":2023,"v":0.517},{"p":"g","s":"Auto Reg.","y":2024,"v":0.527},{"p":"g","s":"Auto Reg.","y":2025,"v":0.536},

{"p":"h","s":"obs","y":1991,"v":2.143},{"p":"h","s":"obs","y":1992,"v":2.196},{"p":"h","s":"obs","y":1993,"v":2.173},{"p":"h","s":"obs","y":1994,"v":2.104},{"p":"h","s":"obs","y":1995,"v":2.161},{"p":"h","s":"obs","y":1996,"v":2.171},{"p":"h","s":"obs","y":1997,"v":2.196},{"p":"h","s":"obs","y":1998,"v":2.167},{"p":"h","s":"obs","y":1999,"v":2.151},{"p":"h","s":"obs","y":2000,"v":2.153},{"p":"h","s":"obs","y":2001,"v":2.147},{"p":"h","s":"obs","y":2002,"v":2.088},{"p":"h","s":"obs","y":2003,"v":2.141},{"p":"h","s":"obs","y":2004,"v":2.088},{"p":"h","s":"obs","y":2005,"v":2.069},{"p":"h","s":"obs","y":2006,"v":2.073},{"p":"h","s":"obs","y":2007,"v":2.063},{"p":"h","s":"obs","y":2008,"v":2.075},{"p":"h","s":"obs","y":2009,"v":2.124},{"p":"h","s":"obs","y":2010,"v":2.069},{"p":"h","s":"obs","y":2011,"v":2.092},{"p":"h","s":"obs","y":2012,"v":2.147},
{"p":"h","s":"Const","y":1992,"v":2.196},{"p":"h","s":"Const","y":1993,"v":2.173},{"p":"h","s":"Const","y":1994,"v":2.104},{"p":"h","s":"Const","y":1995,"v":2.161},{"p":"h","s":"Const","y":1996,"v":2.171},{"p":"h","s":"Const","y":1997,"v":2.196},{"p":"h","s":"Const","y":1998,"v":2.167},{"p":"h","s":"Const","y":1999,"v":2.151},{"p":"h","s":"Const","y":2000,"v":2.153},{"p":"h","s":"Const","y":2001,"v":2.147},{"p":"h","s":"Const","y":2002,"v":2.088},{"p":"h","s":"Const","y":2003,"v":2.141},{"p":"h","s":"Const","y":2004,"v":2.088},{"p":"h","s":"Const","y":2005,"v":2.069},{"p":"h","s":"Const","y":2006,"v":2.073},{"p":"h","s":"Const","y":2007,"v":2.063},{"p":"h","s":"Const","y":2008,"v":2.075},{"p":"h","s":"Const","y":2009,"v":2.124},{"p":"h","s":"Const","y":2010,"v":2.069},{"p":"h","s":"Const","y":2011,"v":2.092},{"p":"h","s":"Const","y":2012,"v":2.147},{"p":"h","s":"Const","y":2025,"v":2.147},
{"p":"h","s":"Auto Reg.","y":1992,"v":2.18},{"p":"h","s":"Auto Reg.","y":1993,"v":2.175},{"p":"h","s":"Auto Reg.","y":1994,"v":2.168},{"p":"h","s":"Auto Reg.","y":1995,"v":2.158},{"p":"h","s":"Auto Reg.","y":1996,"v":2.155},{"p":"h","s":"Auto Reg.","y":1997,"v":2.155},{"p":"h","s":"Auto Reg.","y":1998,"v":2.154},{"p":"h","s":"Auto Reg.","y":1999,"v":2.152},{"p":"h","s":"Auto Reg.","y":2000,"v":2.147},{"p":"h","s":"Auto Reg.","y":2001,"v":2.135},{"p":"h","s":"Auto Reg.","y":2002,"v":2.122},{"p":"h","s":"Auto Reg.","y":2003,"v":2.12},{"p":"h","s":"Auto Reg.","y":2004,"v":2.12},{"p":"h","s":"Auto Reg.","y":2005,"v":2.117},{"p":"h","s":"Auto Reg.","y":2006,"v":2.103},{"p":"h","s":"Auto Reg.","y":2007,"v":2.1},{"p":"h","s":"Auto Reg.","y":2008,"v":2.098},{"p":"h","s":"Auto Reg.","y":2009,"v":2.093},{"p":"h","s":"Auto Reg.","y":2010,"v":2.088},{"p":"h","s":"Auto Reg.","y":2011,"v":2.083},{"p":"h","s":"Auto Reg.","y":2012,"v":2.078},{"p":"h","s":"Auto Reg.","y":2013,"v":2.065},{"p":"h","s":"Auto Reg.","y":2014,"v":2.073},{"p":"h","s":"Auto Reg.","y":2015,"v":2.06},{"p":"h","s":"Auto Reg.","y":2016,"v":2.057},{"p":"h","s":"Auto Reg.","y":2017,"v":2.052},{"p":"h","s":"Auto Reg.","y":2018,"v":2.048},{"p":"h","s":"Auto Reg.","y":2019,"v":2.043},{"p":"h","s":"Auto Reg.","y":2020,"v":2.039},{"p":"h","s":"Auto Reg.","y":2021,"v":2.035},{"p":"h","s":"Auto Reg.","y":2022,"v":2.03},{"p":"h","s":"Auto Reg.","y":2023,"v":2.025},{"p":"h","s":"Auto Reg.","y":2024,"v":2.021},{"p":"h","s":"Auto Reg.","y":2025,"v":2.016}
]},
"columns":2,
"spacing":{"row":52.5,"column":65},
"bounds":"flush",
"concat":[
{"width":325,"height":206,"title":"Prevalence at 65","transform":[{"filter":"datum.p=='a'"}],"resolve":{"axis":{"x":"independent","y":"independent"}},
 "layer":[
  {"transform":[{"filter":"datum.s!='obs'"}],"mark":{"type":"line","color":"black","strokeWidth":1.5,"interpolate":"monotone"},
   "encoding":{"x":{"field":"y","type":"quantitative","scale":{"domain":[1990,2030],"nice":false},"axis":{"values":[1995,2005,2010,2015,2025],"tickSize":-5,"labels":false,"title":null,"orient":"bottom"}},
    "y":{"field":"v","type":"quantitative","scale":{"domain":[0,0.25],"nice":false,"zero":false},"axis":{"values":[0.01,0.02,0.03,0.04,0.06,0.07,0.08,0.09,0.11,0.12,0.13,0.14,0.16,0.17,0.18,0.19,0.21,0.22,0.23,0.24],"tickSize":-5,"labels":false,"title":null,"orient":"left"}},
    "strokeDash":{"field":"s","type":"nominal","title":"Year","scale":{"domain":["Auto Reg.","Lee-Carter","Const"],"range":[[1,0],[1.5,4],[7,5]]}}}},
  {"transform":[{"filter":"datum.s=='obs'"}],"mark":{"type":"circle","color":"black","size":64,"opacity":1},
   "encoding":{"x":{"field":"y","type":"quantitative","scale":{"domain":[1990,2030],"nice":false},"axis":{"values":[2000,2020],"format":"d","tickSize":-10,"labelPadding":20,"title":null,"orient":"bottom"}},
    "y":{"field":"v","type":"quantitative","scale":{"domain":[0,0.25],"nice":false,"zero":false},"axis":{"values":[0,0.05,0.1,0.15,0.2,0.25],"format":".3~g","tickSize":-11,"labelPadding":22,"title":null,"orient":"left"}}}}]},
{"width":325,"height":206,"title":"Incidence","transform":[{"filter":"datum.p=='b'"}],"resolve":{"axis":{"x":"independent","y":"independent"}},
 "layer":[
  {"transform":[{"filter":"datum.s!='obs'"}],"mark":{"type":"line","color":"black","strokeWidth":1.5,"interpolate":"monotone"},
   "encoding":{"x":{"field":"y","type":"quantitative","scale":{"domain":[1990,2030],"nice":false},"axis":{"values":[1995,2005,2010,2015,2025],"tickSize":-5,"labels":false,"title":null,"orient":"bottom"}},
    "y":{"field":"v","type":"quantitative","scale":{"domain":[0,0.035],"nice":false,"zero":false},"axis":{"values":[0.002,0.004,0.006,0.008,0.012,0.014,0.016,0.018,0.022,0.024,0.026,0.028,0.032,0.034],"tickSize":-5,"labels":false,"title":null,"orient":"left"}},
    "strokeDash":{"field":"s","type":"nominal","title":"Year","scale":{"domain":["Auto Reg.","Lee-Carter","Const"],"range":[[1,0],[1.5,4],[7,5]]}}}},
  {"transform":[{"filter":"datum.s=='obs'"}],"mark":{"type":"circle","color":"black","size":64,"opacity":1},
   "encoding":{"x":{"field":"y","type":"quantitative","scale":{"domain":[1990,2030],"nice":false},"axis":{"values":[2000,2020],"format":"d","tickSize":-10,"labelPadding":20,"title":null,"orient":"bottom"}},
    "y":{"field":"v","type":"quantitative","scale":{"domain":[0,0.035],"nice":false,"zero":false},"axis":{"values":[0,0.01,0.02,0.03],"format":".3~g","tickSize":-11,"labelPadding":22,"title":null,"orient":"left"}}}}]},
{"width":325,"height":206,"title":"Mortality of healthy persons","transform":[{"filter":"datum.p=='c'"}],"resolve":{"axis":{"x":"independent","y":"independent"}},
 "layer":[
  {"transform":[{"filter":"datum.s!='obs'"}],"mark":{"type":"line","color":"black","strokeWidth":1.5,"interpolate":"monotone"},
   "encoding":{"x":{"field":"y","type":"quantitative","scale":{"domain":[1990,2030],"nice":false},"axis":{"values":[1995,2005,2010,2015,2025],"tickSize":-5,"labels":false,"title":null,"orient":"bottom"}},
    "y":{"field":"v","type":"quantitative","scale":{"domain":[0,0.08],"nice":false,"zero":false},"axis":{"values":[0.005,0.01,0.015,0.025,0.03,0.035,0.045,0.05,0.055,0.065,0.07,0.075],"tickSize":-5,"labels":false,"title":null,"orient":"left"}},
    "strokeDash":{"field":"s","type":"nominal","title":"Year","scale":{"domain":["Auto Reg.","Lee-Carter","Const"],"range":[[1,0],[1.5,4],[7,5]]}}}},
  {"transform":[{"filter":"datum.s=='obs'"}],"mark":{"type":"circle","color":"black","size":64,"opacity":1},
   "encoding":{"x":{"field":"y","type":"quantitative","scale":{"domain":[1990,2030],"nice":false},"axis":{"values":[2000,2020],"format":"d","tickSize":-10,"labelPadding":20,"title":null,"orient":"bottom"}},
    "y":{"field":"v","type":"quantitative","scale":{"domain":[0,0.08],"nice":false,"zero":false},"axis":{"values":[0,0.02,0.04,0.06,0.08],"format":".3~g","tickSize":-11,"labelPadding":22,"title":null,"orient":"left"}}}}]},
{"width":325,"height":206,"title":"Mortality of sick persons","transform":[{"filter":"datum.p=='d'"}],"resolve":{"axis":{"x":"independent","y":"independent"}},
 "layer":[
  {"transform":[{"filter":"datum.s!='obs'"}],"mark":{"type":"line","color":"black","strokeWidth":1.5,"interpolate":"monotone"},
   "encoding":{"x":{"field":"y","type":"quantitative","scale":{"domain":[1990,2030],"nice":false},"axis":{"values":[1995,2005,2010,2015,2025],"tickSize":-5,"labels":false,"title":null,"orient":"bottom"}},
    "y":{"field":"v","type":"quantitative","scale":{"domain":[0,0.15],"nice":false,"zero":false},"axis":{"values":[0.01,0.02,0.03,0.04,0.06,0.07,0.08,0.09,0.11,0.12,0.13,0.14],"tickSize":-5,"labels":false,"title":null,"orient":"left"}},
    "strokeDash":{"field":"s","type":"nominal","title":"Year","scale":{"domain":["Auto Reg.","Lee-Carter","Const"],"range":[[1,0],[1.5,4],[7,5]]}}}},
  {"transform":[{"filter":"datum.s=='obs'"}],"mark":{"type":"circle","color":"black","size":64,"opacity":1},
   "encoding":{"x":{"field":"y","type":"quantitative","scale":{"domain":[1990,2030],"nice":false},"axis":{"values":[2000,2020],"format":"d","tickSize":-10,"labelPadding":20,"title":null,"orient":"bottom"}},
    "y":{"field":"v","type":"quantitative","scale":{"domain":[0,0.15],"nice":false,"zero":false},"axis":{"values":[0,0.05,0.1,0.15],"format":".3~g","tickSize":-11,"labelPadding":22,"title":null,"orient":"left"}}}}]},
{"width":325,"height":206,"title":"Total Mortality","transform":[{"filter":"datum.p=='e'"}],"resolve":{"axis":{"x":"independent","y":"independent"}},
 "layer":[
  {"transform":[{"filter":"datum.s!='obs'"}],"mark":{"type":"line","color":"black","strokeWidth":1.5,"interpolate":"monotone"},
   "encoding":{"x":{"field":"y","type":"quantitative","scale":{"domain":[1990,2030],"nice":false},"axis":{"values":[1995,2005,2010,2015,2025],"tickSize":-5,"labels":false,"title":null,"orient":"bottom"}},
    "y":{"field":"v","type":"quantitative","scale":{"domain":[0,0.08],"nice":false,"zero":false},"axis":{"values":[0.005,0.01,0.015,0.025,0.03,0.035,0.045,0.05,0.055,0.065,0.07,0.075],"tickSize":-5,"labels":false,"title":null,"orient":"left"}},
    "strokeDash":{"field":"s","type":"nominal","title":"Year","scale":{"domain":["Auto Reg.","Lee-Carter","Const"],"range":[[1,0],[1.5,4],[7,5]]}}}},
  {"transform":[{"filter":"datum.s=='obs'"}],"mark":{"type":"circle","color":"black","size":64,"opacity":1},
   "encoding":{"x":{"field":"y","type":"quantitative","scale":{"domain":[1990,2030],"nice":false},"axis":{"values":[2000,2020],"format":"d","tickSize":-10,"labelPadding":20,"title":null,"orient":"bottom"}},
    "y":{"field":"v","type":"quantitative","scale":{"domain":[0,0.08],"nice":false,"zero":false},"axis":{"values":[0,0.02,0.04,0.06,0.08],"format":".3~g","tickSize":-11,"labelPadding":22,"title":null,"orient":"left"}}}}]},
{"width":325,"height":206,"title":"Cause-specific Mortality","transform":[{"filter":"datum.p=='f'"}],"resolve":{"axis":{"x":"independent","y":"independent"}},
 "layer":[
  {"transform":[{"filter":"datum.s!='obs'"}],"mark":{"type":"line","color":"black","strokeWidth":1.5,"interpolate":"monotone"},
   "encoding":{"x":{"field":"y","type":"quantitative","scale":{"domain":[1990,2030],"nice":false},"axis":{"values":[1995,2005,2010,2015,2025],"tickSize":-5,"labels":false,"title":null,"orient":"bottom"}},
    "y":{"field":"v","type":"quantitative","scale":{"domain":[0,0.04],"nice":false,"zero":false},"axis":{"values":[0.002,0.004,0.006,0.008,0.012,0.014,0.016,0.018,0.022,0.024,0.026,0.028,0.032,0.034,0.036,0.038],"tickSize":-5,"labels":false,"title":null,"orient":"left"}},
    "strokeDash":{"field":"s","type":"nominal","title":"Year","scale":{"domain":["Auto Reg.","Lee-Carter","Const"],"range":[[1,0],[1.5,4],[7,5]]}}}},
  {"transform":[{"filter":"datum.s=='obs'"}],"mark":{"type":"circle","color":"black","size":64,"opacity":1},
   "encoding":{"x":{"field":"y","type":"quantitative","scale":{"domain":[1990,2030],"nice":false},"axis":{"values":[2000,2020],"format":"d","tickSize":-10,"labelPadding":20,"title":null,"orient":"bottom"}},
    "y":{"field":"v","type":"quantitative","scale":{"domain":[0,0.04],"nice":false,"zero":false},"axis":{"values":[0,0.01,0.02,0.03,0.04],"format":".3~g","tickSize":-11,"labelPadding":22,"title":null,"orient":"left"}}}}]},
{"width":325,"height":206,"title":"Fraction","transform":[{"filter":"datum.p=='g'"}],"resolve":{"axis":{"x":"independent","y":"independent"}},
 "layer":[
  {"transform":[{"filter":"datum.s!='obs'"}],"mark":{"type":"line","color":"black","strokeWidth":1.5,"interpolate":"monotone"},
   "encoding":{"x":{"field":"y","type":"quantitative","scale":{"domain":[1990,2030],"nice":false},"axis":{"values":[1995,2005,2010,2015,2025],"tickSize":-5,"labels":false,"title":null,"orient":"bottom"}},
    "y":{"field":"v","type":"quantitative","scale":{"domain":[0,0.8],"nice":false,"zero":false},"axis":{"values":[0.05,0.1,0.15,0.25,0.3,0.35,0.45,0.5,0.55,0.65,0.7,0.75],"tickSize":-5,"labels":false,"title":null,"orient":"left"}},
    "strokeDash":{"field":"s","type":"nominal","title":"Year","scale":{"domain":["Auto Reg.","Lee-Carter","Const"],"range":[[1,0],[1.5,4],[7,5]]}}}},
  {"transform":[{"filter":"datum.s=='obs'"}],"mark":{"type":"circle","color":"black","size":64,"opacity":1},
   "encoding":{"x":{"field":"y","type":"quantitative","scale":{"domain":[1990,2030],"nice":false},"axis":{"values":[2000,2020],"format":"d","tickSize":-10,"labelPadding":20,"title":null,"orient":"bottom"}},
    "y":{"field":"v","type":"quantitative","scale":{"domain":[0,0.8],"nice":false,"zero":false},"axis":{"values":[0,0.2,0.4,0.6,0.8],"format":".3~g","tickSize":-11,"labelPadding":22,"title":null,"orient":"left"}}}}]},
{"width":325,"height":206,"title":"Hazard Ratio","transform":[{"filter":"datum.p=='h'"}],"resolve":{"axis":{"x":"independent","y":"independent"}},
 "layer":[
  {"transform":[{"filter":"datum.s!='obs'"}],"mark":{"type":"line","color":"black","strokeWidth":1.5,"interpolate":"monotone"},
   "encoding":{"x":{"field":"y","type":"quantitative","scale":{"domain":[1990,2030],"nice":false},"axis":{"values":[1995,2005,2010,2015,2025],"tickSize":-5,"labels":false,"title":null,"orient":"bottom"}},
    "y":{"field":"v","type":"quantitative","scale":{"domain":[1.5,2.72],"nice":false,"zero":false},"axis":{"values":[1.55,1.6,1.65,1.7,1.8,1.85,1.9,1.95,2.05,2.1,2.15,2.2,2.3,2.35,2.4,2.45,2.55,2.6,2.65,2.7],"tickSize":-5,"labels":false,"title":null,"orient":"left"}},
    "strokeDash":{"field":"s","type":"nominal","title":"Year","scale":{"domain":["Auto Reg.","Lee-Carter","Const"],"range":[[1,0],[1.5,4],[7,5]]}}}},
  {"transform":[{"filter":"datum.s=='obs'"}],"mark":{"type":"circle","color":"black","size":64,"opacity":1},
   "encoding":{"x":{"field":"y","type":"quantitative","scale":{"domain":[1990,2030],"nice":false},"axis":{"values":[2000,2020],"format":"d","tickSize":-10,"labelPadding":20,"title":null,"orient":"bottom"}},
    "y":{"field":"v","type":"quantitative","scale":{"domain":[1.5,2.72],"nice":false,"zero":false},"axis":{"values":[1.5,1.75,2,2.25,2.5],"format":".3~g","tickSize":-11,"labelPadding":22,"title":null,"orient":"left"}}}}]}
],
"config":{
 "view":{"stroke":"black","strokeWidth":1.5},
 "axis":{"domain":false,"grid":false,"labelFont":"Liberation Sans","labelFontSize":16,"labelFontWeight":"bold","labelColor":"black","tickColor":"#888","tickWidth":1,"labelOverlap":false,"labelFlush":false},
 "title":{"font":"Liberation Sans","fontSize":19,"fontWeight":"bold","color":"black","offset":-25,"baseline":"alphabetic","anchor":"middle","frame":"group"},
 "legend":{"orient":"none","legendX":-22,"legendY":1005,"direction":"horizontal","symbolType":"stroke","symbolSize":2304,"symbolStrokeWidth":1.5,"symbolStrokeColor":"black","labelFont":"Liberation Sans","labelFontSize":19.5,"labelFontWeight":"bold","labelColor":"black","labelOffset":13,"columnPadding":39,"titleOrient":"right","titleAnchor":"middle","titleBaseline":"middle","titleFont":"Liberation Sans","titleFontSize":22,"titleFontWeight":"bold","titleColor":"black","titlePadding":155}
}
}
